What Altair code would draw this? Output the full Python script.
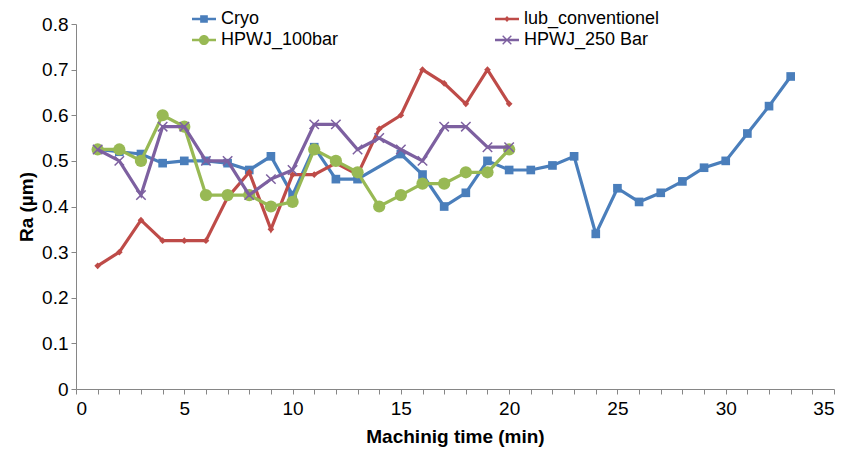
import altair as alt
import pandas as pd

series_names = ["Cryo", "lub_conventionel", "HPWJ_100bar", "HPWJ_250 Bar"]
series_colors = ["#4A7EBB", "#BE4B48", "#98B954", "#7D60A0"]

cryo_time = [1, 2, 3, 4, 5, 6, 7, 8, 9, 10, 11, 12, 13, 15, 16, 17, 18, 19, 20,
             21, 22, 23, 24, 25, 26, 27, 28, 29, 30, 31, 32, 33]
cryo_ra = [0.525, 0.52, 0.515, 0.495, 0.50, 0.50, 0.495, 0.48, 0.51, 0.425, 0.53,
           0.46, 0.46, 0.515, 0.47, 0.40, 0.43, 0.50, 0.48, 0.48, 0.49, 0.51,
           0.34, 0.44, 0.41, 0.43, 0.455, 0.485, 0.50, 0.56, 0.62, 0.685]

lub_time = [1, 2, 3, 4, 5, 6, 7, 8, 9, 10, 11, 12, 13, 14, 15, 16, 17, 18, 19, 20]
lub_ra = [0.27, 0.30, 0.37, 0.325, 0.325, 0.325, 0.42, 0.475, 0.35, 0.47, 0.47,
          0.495, 0.47, 0.57, 0.60, 0.70, 0.67, 0.625, 0.70, 0.625]

hp100_time = [1, 2, 3, 4, 5, 6, 7, 8, 9, 10, 11, 12, 13, 14, 15, 16, 17, 18, 19, 20]
hp100_ra = [0.525, 0.525, 0.50, 0.60, 0.575, 0.425, 0.425, 0.425, 0.40, 0.41,
            0.525, 0.50, 0.475, 0.40, 0.425, 0.45, 0.45, 0.475, 0.475, 0.525]

hp250_time = [1, 2, 3, 4, 5, 6, 7, 8, 9, 10, 11, 12, 13, 14, 15, 16, 17, 18, 19, 20]
hp250_ra = [0.525, 0.50, 0.425, 0.575, 0.575, 0.50, 0.50, 0.425, 0.46, 0.48,
            0.58, 0.58, 0.525, 0.55, 0.525, 0.50, 0.575, 0.575, 0.53, 0.53]

x_ticks = [0, 1, 2, 3, 4, 5, 6, 7, 8, 9, 10, 11, 12, 13, 14, 15, 16, 17, 18, 19,
           20, 21, 22, 23, 24, 25, 26, 27, 28, 29, 30, 31, 32, 33, 34, 35]
y_ticks = [0, 0.1, 0.2, 0.3, 0.4, 0.5, 0.6, 0.7, 0.8]

rows = []
for name, times, vals in [
    (series_names[0], cryo_time, cryo_ra),
    (series_names[1], lub_time, lub_ra),
    (series_names[2], hp100_time, hp100_ra),
    (series_names[3], hp250_time, hp250_ra),
]:
    for t, v in zip(times, vals):
        rows.append({"time": t, "ra": v, "series": name})
df = pd.DataFrame(rows)

X_PATH = "M-1,-0.8L-0.8,-1L1,0.8L0.8,1Z M1,-0.8L-0.8,1L-1,0.8L0.8,-1Z"
point_shapes = ["square", "diamond", "circle", X_PATH]
point_sizes = [75, 45, 150, 110]

LINE = "M-1,-0.11H1V0.11H-1Z"
legend_path_by_name = {
    "Cryo": LINE + " M-0.32,-0.32H0.32V0.32H-0.32Z",
    "lub_conventionel": LINE + " M-0.24,0L0,-0.24L0.24,0L0,0.24Z",
    "HPWJ_100bar": LINE + " M-0.42,0A0.42,0.42 0 1,1 0.42,0A0.42,0.42 0 1,1 -0.42,0Z",
    "HPWJ_250 Bar": LINE + " M-0.4,-0.32L-0.32,-0.4L0.4,0.32L0.32,0.4Z M0.4,-0.32L-0.32,0.4L-0.4,0.32L0.32,-0.4Z",
}
# legend laid out column by column: first column Cryo / HPWJ_100bar, second lub / HPWJ_250
legend_order = ["Cryo", "HPWJ_100bar", "lub_conventionel", "HPWJ_250 Bar"]
legend_colors = [series_colors[series_names.index(n)] for n in legend_order]
legend_paths = [legend_path_by_name[n] for n in legend_order]

FONT = "Liberation Sans Narrow, Arial Narrow, Liberation Sans, Arial, sans-serif"

x_enc = alt.X(
    "time:Q",
    scale=alt.Scale(domain=[0, 35], nice=False, zero=False),
    axis=alt.Axis(
        values=x_ticks,
        labelExpr="datum.value % 5 === 0 ? datum.label : ''",
        title="Machinig time (min)",
        grid=False,
        tickSize=5,
        labelPadding=5,
        titlePadding=9,
    ),
)
y_enc = alt.Y(
    "ra:Q",
    scale=alt.Scale(domain=[0, 0.8], nice=False),
    axis=alt.Axis(
        values=y_ticks,
        format="~g",
        title="Ra (µm)",
        grid=False,
        tickSize=5,
        labelPadding=3,
        titlePadding=5,
    ),
)

base = alt.Chart(df)
layers = []
for i, name in enumerate(series_names):
    sub = base.transform_filter(alt.datum.series == name)
    layers.append(
        sub.mark_line(strokeWidth=3.2, color=series_colors[i]).encode(x=x_enc, y=y_enc)
    )
    layers.append(
        sub.mark_point(
            filled=True, size=point_sizes[i], opacity=1, strokeWidth=0,
            shape=point_shapes[i], color=series_colors[i],
        ).encode(x=x_enc, y=y_enc)
    )

legend_layer = base.transform_filter("false").mark_point(
    filled=True, opacity=1, strokeWidth=0
).encode(
    x=x_enc,
    y=y_enc,
    color=alt.Color(
        "series:N",
        scale=alt.Scale(domain=legend_order, range=legend_colors),
        legend=alt.Legend(
            title=None,
            orient="none",
            legendX=116,
            legendY=-17,
            columns=2,
            columnPadding=156,
            rowPadding=0,
            symbolSize=576,
            symbolStrokeWidth=0,
            symbolOpacity=1,
            labelFont=FONT,
            labelFontSize=18,
            labelColor="#000000",
            labelOffset=5,
        ),
    ),
    shape=alt.Shape(
        "series:N",
        scale=alt.Scale(domain=legend_order, range=legend_paths),
    ),
)
layers.append(legend_layer)

chart = (
    alt.layer(*layers)
    .properties(
        width=758,
        height=365,
        autosize=alt.AutoSizeParams(type="none"),
        padding={"left": 68, "top": 16, "right": 20, "bottom": 60},
        background="#FFFFFF",
    )
    .configure_view(stroke=None)
    .configure_axis(
        domainColor="#868686",
        tickColor="#868686",
        labelFont=FONT,
        labelFontSize=19,
        labelColor="#000000",
        titleFont=FONT,
        titleFontSize=19,
        titleFontWeight="bold",
        titleColor="#000000",
    )
)

chart.save("out.html", embed_options={"renderer": "svg", "actions": False})
